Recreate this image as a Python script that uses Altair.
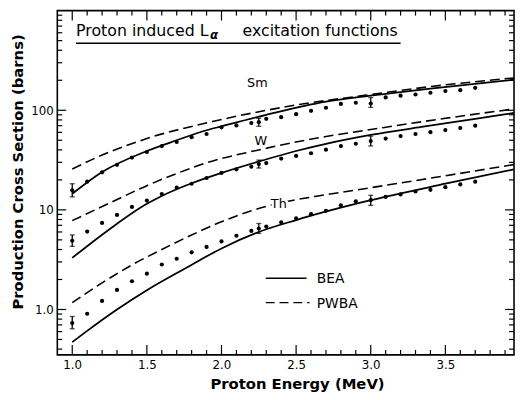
import altair as alt
import pandas as pd

# ---------------- data ----------------
dot_E = [1.0, 1.1, 1.2, 1.3, 1.4, 1.5, 1.6, 1.7, 1.8, 1.9, 2.0, 2.1, 2.2, 2.25,
         2.3, 2.4, 2.5, 2.6, 2.7, 2.8, 2.9, 3.0, 3.1, 3.2, 3.3, 3.4, 3.5, 3.6, 3.7]
sm_dots = [15.7, 19.2, 23.8, 28.3, 33.5, 38.1, 43.7, 48.0, 53.7, 57.8, 67.4, 70.5, 74.3, 76.0,
           82.0, 85.3, 91.3, 98.6, 106, 115.7, 119, 117, 134.5, 140, 144, 150, 156, 159, 168]
w_dots = [4.9, 6.05, 7.4, 8.9, 10.7, 12.4, 14.4, 16.7, 18.3, 20.9, 23.5, 25.5, 27.1, 28.8,
          29.5, 32.7, 34.8, 37.0, 40.2, 43.7, 46.1, 49.0, 52.0, 55.0, 57.8, 60.2, 63.2, 66.4, 70.1]
th_dots = [0.73, 0.906, 1.22, 1.57, 1.92, 2.29, 2.83, 3.23, 3.75, 4.25, 4.82, 5.5, 6.15, 6.5,
           6.8, 7.5, 8.2, 9.06, 9.78, 11.1, 12.2, 12.5, 13.5, 14.3, 15.3, 15.9, 16.9, 18.0, 19.2]

# BEA (solid) curves
sm_bea_E = [1.0, 1.2, 1.5, 1.7, 1.9, 2.0, 2.3, 2.7, 3.0, 3.4, 3.96]
sm_bea = [14.5, 24, 39, 50, 63, 69, 90, 122, 140, 165, 203]
w_bea_E = [1.0, 1.25, 1.5, 1.6, 1.8, 2.0, 2.28, 2.5, 2.7, 3.0, 3.34, 3.7, 3.96]
w_bea = [3.3, 6.4, 11.5, 13.8, 18.5, 23.5, 31.5, 39, 46, 56.5, 68, 82, 94]
th_bea_E = [1.0, 1.1, 1.3, 1.5, 1.75, 2.0, 2.25, 2.5, 3.0, 3.5, 3.96]
th_bea = [0.47, 0.61, 1.0, 1.56, 2.55, 4.1, 6.0, 7.9, 12.5, 18.3, 25.5]

# PWBA (dashed) curves
sm_pwba_E = [1.0, 1.2, 1.5, 1.94, 2.44, 2.97, 3.5, 3.96]
sm_pwba = [25.7, 35.5, 52, 77, 109, 142, 180, 211]
w_pwba_E = [1.0, 1.25, 1.5, 1.7, 1.91, 2.25, 2.7, 3.0, 3.5, 3.96]
w_pwba = [7.8, 11.7, 17.5, 23.2, 30, 40, 54.5, 64, 83, 103]
th_pwba_E = [1.0, 1.2, 1.4, 1.6, 1.8, 2.0, 2.2, 2.4, 2.7, 3.0, 3.5, 3.96]
th_pwba = [1.17, 1.85, 2.8, 4.0, 5.6, 7.6, 9.8, 11.8, 14.2, 16.7, 22, 28.5]

# error bars
eb_E = [1.0, 2.25, 3.0, 1.0, 2.25, 3.0, 1.0, 2.25, 3.0]
eb_lo = [13.5, 69, 107, 4.3, 26.3, 43.8, 0.64, 5.8, 11.1]
eb_hi = [18.3, 83, 134, 5.6, 31.6, 54.9, 0.85, 7.3, 14.0]

# element labels
lab_text = ["Sm", "W", "Th"]
lab_E = [2.240, 2.263, 2.384]
lab_s = [172.9, 44.7, 10.47]

# axis ticks
x_labels = [1.0, 1.5, 2.0, 2.5, 3.0, 3.5]
x_minor = [1.1, 1.2, 1.3, 1.4, 1.6, 1.7, 1.8, 1.9, 2.1, 2.2, 2.3, 2.4, 2.6, 2.7,
           2.8, 2.9, 3.1, 3.2, 3.3, 3.4, 3.6, 3.7, 3.8, 3.9]
y_labels = [1, 10, 100]
y_minor = [0.4, 0.5, 0.6, 0.7, 0.8, 0.9, 2, 3, 4, 5, 6, 7, 8, 9,
           20, 30, 40, 50, 60, 70, 80, 90, 200, 300, 400, 500, 600, 700, 800, 900]

# ---------------- tables ----------------
def curve_rows(E, S, el):
    return [{"E": e, "s": s, "el": el} for e, s in zip(E, S)]

bea_df = pd.DataFrame(curve_rows(sm_bea_E, sm_bea, "Sm") + curve_rows(w_bea_E, w_bea, "W")
                      + curve_rows(th_bea_E, th_bea, "Th"))
pwba_df = pd.DataFrame(curve_rows(sm_pwba_E, sm_pwba, "Sm") + curve_rows(w_pwba_E, w_pwba, "W")
                       + curve_rows(th_pwba_E, th_pwba, "Th"))
dots_df = pd.DataFrame(curve_rows(dot_E, sm_dots, "Sm") + curve_rows(dot_E, w_dots, "W")
                       + curve_rows(dot_E, th_dots, "Th"))
eb_df = pd.DataFrame({"E": eb_E, "lo": eb_lo, "hi": eb_hi})
cap_df = pd.DataFrame({"E": eb_E + eb_E, "v": eb_lo + eb_hi})
lab_df = pd.DataFrame({"t": lab_text, "E": lab_E, "s": lab_s})

W, H = 463, 349
FONT = "DejaVu Sans"
xs = alt.Scale(domain=[0.9, 3.96], nice=False, zero=False)
ys = alt.Scale(type="log", domain=[0.35, 1000], nice=False)

x_axis = alt.Axis(values=x_labels, format=".1f", labelFontSize=12, labelPadding=5,
                  labelFont=FONT, labelColor="black", ticks=False, domain=False, grid=False,
                  title="Proton Energy (MeV)", titleFont=FONT, titleFontSize=15,
                  titleFontWeight="bold", titleColor="black", titleX=243, titleY=29,
                  titleBaseline="middle", titleAlign="center")
y_axis = alt.Axis(values=y_labels,
                  labelExpr="datum.value == 1 ? '1.0' : (datum.value == 10 ? '10' : '100')",
                  labelFontSize=12, labelPadding=4, labelFont=FONT, labelColor="black",
                  ticks=False, domain=False, grid=False,
                  title="Production Cross Section (barns)", titleFont=FONT, titleFontSize=15,
                  titleFontWeight="bold", titleColor="black", titleX=-40, titleY=163,
                  titleBaseline="middle", titleAlign="center")


def X(f):
    return alt.X(f, type="quantitative", scale=xs, axis=x_axis)


def Y(f):
    return alt.Y(f, type="quantitative", scale=ys, axis=y_axis)


bea = alt.Chart(bea_df).mark_line(color="black", strokeWidth=1.8, interpolate="monotone",
                                  clip=True).encode(x=X("E"), y=Y("s"), detail="el:N")

pwba = alt.Chart(pwba_df).mark_line(color="black", strokeWidth=1.6, strokeDash=[10, 5],
                                    interpolate="monotone", clip=True).encode(
    x=X("E"), y=Y("s"), detail="el:N")

dots = alt.Chart(dots_df).mark_circle(color="black", size=18, opacity=1).encode(x=X("E"), y=Y("s"))

ebars = alt.Chart(eb_df).mark_rule(color="black", strokeWidth=1.3).encode(
    x=X("E"), y=Y("lo"), y2="hi")
caps = alt.Chart(cap_df).mark_tick(color="black", orient="horizontal", size=5,
                                   thickness=1.3).encode(x=X("E"), y=Y("v"))

halo = alt.Chart(lab_df).mark_text(font=FONT, fontSize=13, color="white", stroke="white",
                                   strokeWidth=5, align="center",
                                   baseline="alphabetic").encode(
    x=X("E"), y=Y("s"), text="t:N")
labels = alt.Chart(lab_df).mark_text(font=FONT, fontSize=13, color="black", align="center",
                                     baseline="alphabetic").encode(
    x=X("E"), y=Y("s"), text="t:N")

# title inside plot
title1_df = pd.DataFrame({"t": ["Proton induced L"], "E": [1.0256], "s": [561.9]})
title1 = alt.Chart(title1_df).mark_text(font=FONT, fontSize=16, color="black", align="left",
                                        baseline="alphabetic").encode(
    x=X("E"), y=Y("s"), text="t:N")
title2_df = pd.DataFrame({"t": ["excitation functions"], "E": [2.661], "s": [561.9]})
title2 = alt.Chart(title2_df).mark_text(font=FONT, fontSize=16, color="black", align="center",
                                        baseline="alphabetic").encode(
    x=X("E"), y=Y("s"), text="t:N")
alpha_df = pd.DataFrame({"t": ["α"], "E": [1.95], "s": [518]})
alpha_txt = alt.Chart(alpha_df).mark_text(font=FONT, fontSize=12, fontStyle="italic",
                                          fontWeight="bold", color="black", align="center",
                                          baseline="alphabetic").encode(
    x=X("E"), y=Y("s"), text="t:N")
uline_df = pd.DataFrame({"E": [1.0256], "E2": [3.200], "s": [471]})
uline = alt.Chart(uline_df).mark_rule(color="black", strokeWidth=1.4).encode(
    x=X("E"), x2="E2", y=Y("s"))

# legend
leg_df = pd.DataFrame({"E": [2.2966], "E2": [2.570], "s": [2.06]})
leg_solid = alt.Chart(leg_df).mark_rule(color="black", strokeWidth=1.6).encode(
    x=X("E"), x2="E2", y=Y("s"))
legd_df = pd.DataFrame({"E": [2.2966], "E2": [2.590], "s": [1.173]})
leg_dash = alt.Chart(legd_df).mark_rule(color="black", strokeWidth=1.4,
                                        strokeDash=[9, 5]).encode(
    x=X("E"), x2="E2", y=Y("s"))
legt_df = pd.DataFrame({"t": ["BEA", "PWBA"], "E": [2.638, 2.638], "s": [1.838, 1.039]})
leg_txt = alt.Chart(legt_df).mark_text(font=FONT, fontSize=14, color="black", align="left",
                                       baseline="alphabetic").encode(
    x=X("E"), y=Y("s"), text="t:N")

# inward ticks on all four sides
xmaj_df = pd.DataFrame({"t": x_labels})
xmin_df = pd.DataFrame({"t": x_minor})
ymaj_df = pd.DataFrame({"t": y_labels})
ymin_df = pd.DataFrame({"t": y_minor})


def xticks(df, length):
    b = alt.Chart(df).mark_rule(color="black", strokeWidth=1.2).encode(
        x=X("t"), y=alt.value(H), y2=alt.value(H - length))
    t = alt.Chart(df).mark_rule(color="black", strokeWidth=1.2).encode(
        x=X("t"), y=alt.value(0), y2=alt.value(length))
    return [b, t]


def yticks(df, length):
    l = alt.Chart(df).mark_rule(color="black", strokeWidth=1.2).encode(
        y=Y("t"), x=alt.value(0), x2=alt.value(length))
    r = alt.Chart(df).mark_rule(color="black", strokeWidth=1.2).encode(
        y=Y("t"), x=alt.value(W), x2=alt.value(W - length))
    return [l, r]


ticks = xticks(xmaj_df, 10) + xticks(xmin_df, 5) + yticks(ymaj_df, 9) + yticks(ymin_df, 5)

chart = alt.layer(
    bea, pwba, dots, ebars, caps, halo, labels, title1, title2, alpha_txt, uline,
    leg_solid, leg_dash, leg_txt, *ticks
).properties(
    width=W, height=H,
    padding={"left": 50, "top": 0, "right": 1, "bottom": 40},
    autosize=alt.AutoSizeParams(type="none"),
    background="white",
).configure_view(stroke="black", strokeWidth=1.6)

chart.save("out.html", embed_options={"renderer": "svg", "actions": False})
